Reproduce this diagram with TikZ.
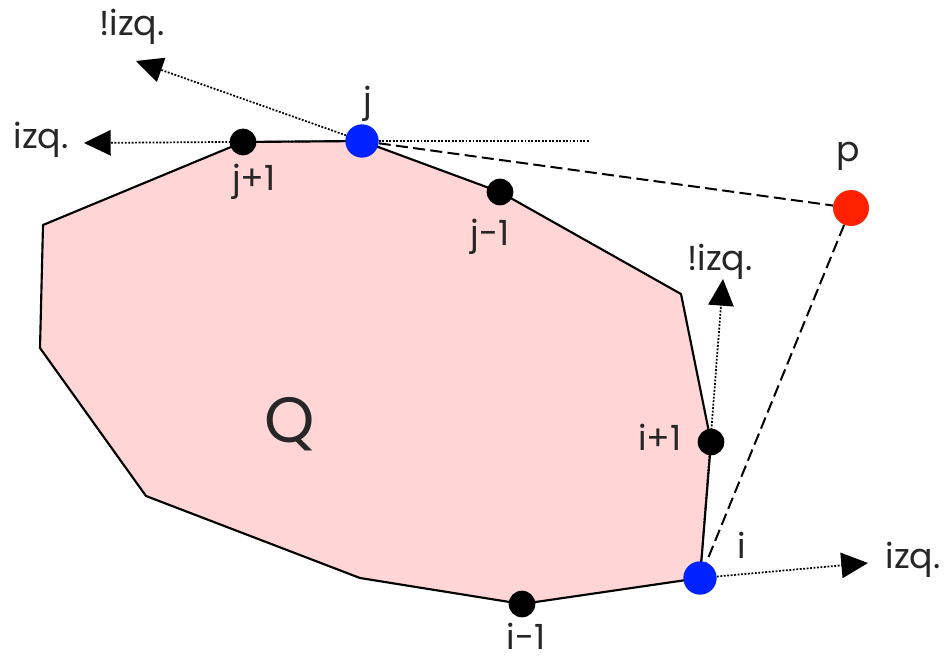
\documentclass[tikz,border=0pt]{standalone}
\usepackage{fontspec}
\setmainfont{Poppins}
\usetikzlibrary{arrows.meta, backgrounds}
\definecolor{polyFill}{HTML}{FFD5D5}
\definecolor{ptBlue}{HTML}{0022FF}
\definecolor{ptRed}{HTML}{FF2200}

\begin{document}
\begin{tikzpicture}[x=0.75pt, y=-0.75pt,
    punto/.style={circle, fill=black, inner sep=0pt, minimum size=20pt},
    tangente/.style={circle, fill=ptBlue, inner sep=0pt, minimum size=25pt},
    etiq/.style={font=\fontsize{26}{26}\selectfont, text=black!85, inner sep=0pt},
    rayo/.style={line width=1.3pt, dash pattern=on 1.4pt off 1.2pt,
      -{Triangle[length=20pt, width=19pt]}},
    guia/.style={line width=1.5pt, dash pattern=on 9pt off 4pt}]
  \useasboundingbox (0,0) rectangle (949,660);
  % esquinas de Q sin nombre
  \coordinate (c1) at (681,294);
  \coordinate (c2) at (360,578);
  \coordinate (c3) at (146,496);
  \coordinate (c4) at (40,348);
  \coordinate (c5) at (43,225);
  % vertices marcados
  \node[punto]   (jp1) at (243,142) {};
  \node[tangente] (j)  at (362,141) {};
  \node[punto]   (jm1) at (500,192) {};
  \node[punto]   (ip1) at (711,442) {};
  \node[tangente] (i)  at (700,578) {};
  \node[punto]   (im1) at (522,604) {};
  \node[circle, fill=ptRed, inner sep=0pt, minimum size=27pt] (p) at (851,208) {};
  % poligono Q
  \begin{scope}[on background layer]
    \draw[fill=polyFill, line width=1.6pt, line join=round]
      (j.center) -- (jm1.center) -- (c1) -- (ip1.center) -- (i.center)
      -- (im1.center) -- (c2) -- (c3) -- (c4) -- (c5) -- (jp1.center) -- cycle;
  \end{scope}
  % extremos de los rayos
  \coordinate (tIzqJ)   at (84,143);
  \coordinate (tNoIzqJ) at (136,61);
  \coordinate (finJ)    at (590,141);
  \coordinate (tNoIzqI) at (723,279);
  \coordinate (tIzqI)   at (868,563);
  % rayos punteados
  \draw[rayo] (j) -- (tIzqJ);
  \draw[rayo] (j) -- (tNoIzqJ);
  \draw[rayo, -] (j) -- (finJ);
  \draw[rayo] (i) -- (tNoIzqI);
  \draw[rayo] (i) -- (tIzqI);
  % tangentes desde p
  \draw[guia] (j) -- (p);
  \draw[guia] (p) -- (i);
  % etiquetas
  \node[etiq] (lNoIzqJ) at (132,27)  {!izq.};
  \node[etiq] (lIzqJ)   at (41,140)  {izq.};
  \node[etiq] (lJ)      at (368,104) {j};
  \node[etiq] (lJp1)    at (254,182) {j+1};
  \node[etiq] (lJm1)    at (490,237) {j-1};
  \node[etiq] (lP)      at (848,156) {p};
  \node[etiq] (lNoIzqI) at (720,262) {!izq.};
  \node[etiq] (lIp1)    at (660,437) {i+1};
  \node[etiq] (lI)      at (742,545) {i};
  \node[etiq] (lIzqI)   at (913,560) {izq.};
  \node[etiq] (lIm1)    at (526,636) {i-1};
  \node[etiq, font=\fontsize{48}{48}\selectfont] (lQ) at (290,424) {Q};
\end{tikzpicture}
\end{document}
